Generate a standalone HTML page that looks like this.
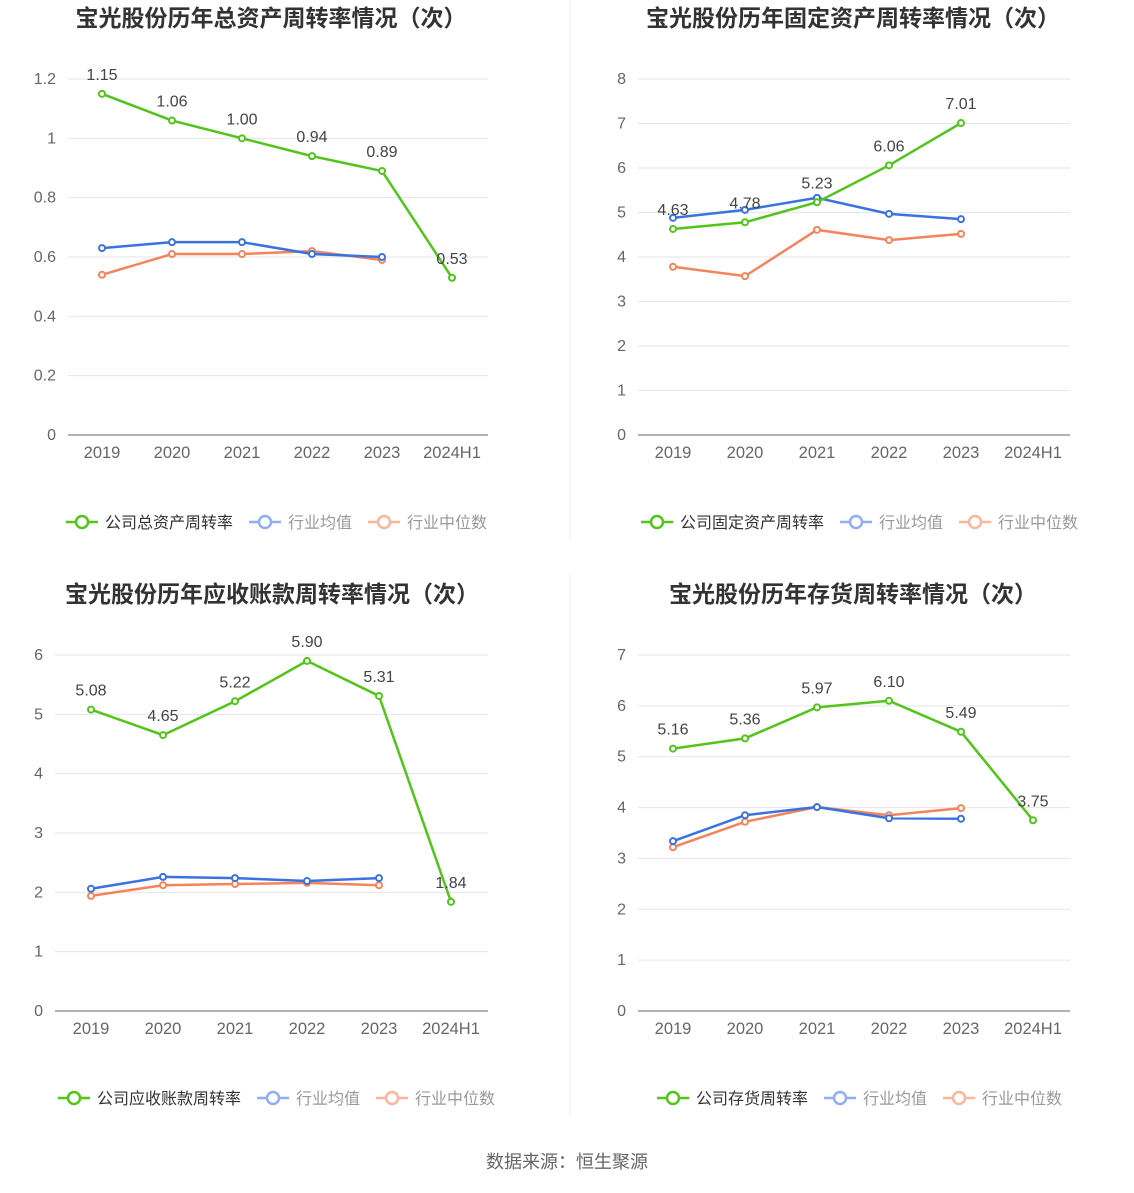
<!DOCTYPE html>
<html><head><meta charset="utf-8"><style>
body{margin:0;background:#fff;font-family:"Liberation Sans","Noto Sans CJK SC",sans-serif;}
svg text{font-family:"Liberation Sans","Noto Sans CJK SC",sans-serif;}
</style></head><body>
<svg id="s" width="1134" height="1188" xmlns="http://www.w3.org/2000/svg">
<line x1="570" y1="0" x2="570" y2="540" stroke="#eee"/>
<line x1="570" y1="575" x2="570" y2="1115" stroke="#eee"/>
<text x="567" y="1168" text-anchor="middle" font-size="18" fill="#666">数据来源：恒生聚源</text>
</svg>
<script>
const categories=["2019","2020","2021","2022","2023","2024H1"];
const c1Company=[1.15,1.06,1.00,0.94,0.89,0.53];
const c1Avg=[0.63,0.65,0.65,0.61,0.60];
const c1Med=[0.54,0.61,0.61,0.62,0.59];
const c1Ticks=["0","0.2","0.4","0.6","0.8","1","1.2"];
const c2Company=[4.63,4.78,5.23,6.06,7.01];
const c2Avg=[4.88,5.06,5.33,4.97,4.85];
const c2Med=[3.78,3.57,4.61,4.38,4.52];
const c2Ticks=["0","1","2","3","4","5","6","7","8"];
const c3Company=[5.08,4.65,5.22,5.90,5.31,1.84];
const c3Avg=[2.06,2.26,2.24,2.19,2.24];
const c3Med=[1.94,2.12,2.14,2.16,2.12];
const c3Ticks=["0","1","2","3","4","5","6"];
const c4Company=[5.16,5.36,5.97,6.10,5.49,3.75];
const c4Avg=[3.34,3.85,4.01,3.79,3.78];
const c4Med=[3.22,3.72,4.01,3.85,3.99];
const c4Ticks=["0","1","2","3","4","5","6","7"];
const svg=document.getElementById('s');
const NS="http://www.w3.org/2000/svg";
function mk(t,a,txt){const e=document.createElementNS(NS,t);for(const k in a)e.setAttribute(k,a[k]);if(txt!==undefined)e.textContent=txt;svg.appendChild(e);return e;}
const G="#52c41a",B="#3a72e0",O="#f5845a";
function chart(o){
  const n=o.ticks.length-1, max=+o.ticks[n];
  const y=v=>o.y0-(o.y0-o.yTop)*v/max;
  const x=i=>o.xs+i*o.step;
  let e=mk('text',{x:o.tx,y:o.ty,'text-anchor':'middle','font-size':23,'font-weight':'bold',fill:'#333'},o.title);
  
  o.ticks.forEach((t,i)=>{const yy=y(+t);
    e=mk('line',{x1:o.x0,x2:o.x1,y1:yy,y2:yy,stroke:i==0?'#666':'#e4e6ee'});
    
    e=mk('text',{x:o.x0-12,y:yy+5,'text-anchor':'end','font-size':16,fill:'#666'},t);
    });
  categories.forEach((c,i)=>{
    e=mk('text',{x:x(i),y:o.y0+23,'text-anchor':'middle','font-size':16.5,fill:'#666'},c);
    });
  [[o.med,O,'median-line'],[o.avg,B,'average-line'],[o.comp,G,'company-line']].forEach(([d,col,nm])=>{
    e=mk('polyline',{points:d.map((v,i)=>x(i)+','+y(v)).join(' '),fill:'none',stroke:col,'stroke-width':2.5});
    
    d.forEach((v,i)=>{e=mk('circle',{cx:x(i),cy:y(v),r:3,fill:'#fff',stroke:col,'stroke-width':2});
      });
  });
  o.comp.forEach((v,i)=>{e=mk('text',{x:x(i),y:y(v)-14,'text-anchor':'middle','font-size':16,fill:'#444'},v.toFixed(2));
    });
  let lx=o.lx;const ly=o.ly;
  [[o.lname,G,'#333'],['行业均值','#8fb0f0','#999'],['行业中位数','#fbb79e','#999']].forEach(([t,col,tc],k)=>{
    e=mk('line',{x1:lx,x2:lx+32,y1:ly,y2:ly,stroke:col,'stroke-width':2.5});
    
    e=mk('circle',{cx:lx+16,cy:ly,r:6,fill:'#fff',stroke:col,'stroke-width':2.5});
    
    e=mk('text',{x:lx+39,y:ly+6,'font-size':16,fill:tc},t);
    
    lx+=39+t.length*16+16;});
}
chart({title:'宝光股份历年总资产周转率情况（次）',tx:271,ty:26,ticks:c1Ticks,y0:435,yTop:79,x0:68,x1:488,xs:102,step:70,comp:c1Company,avg:c1Avg,med:c1Med,lname:'公司总资产周转率',lx:66,ly:522});
chart({title:'宝光股份历年固定资产周转率情况（次）',tx:853,ty:26,ticks:c2Ticks,y0:435,yTop:79,x0:638,x1:1070,xs:673,step:72,comp:c2Company,avg:c2Avg,med:c2Med,lname:'公司固定资产周转率',lx:641,ly:522});
chart({title:'宝光股份历年应收账款周转率情况（次）',tx:272,ty:602,ticks:c3Ticks,y0:1011,yTop:655,x0:55,x1:488,xs:91,step:72,comp:c3Company,avg:c3Avg,med:c3Med,lname:'公司应收账款周转率',lx:58,ly:1098});
chart({title:'宝光股份历年存货周转率情况（次）',tx:853,ty:602,ticks:c4Ticks,y0:1011,yTop:655,x0:638,x1:1070,xs:673,step:72,comp:c4Company,avg:c4Avg,med:c4Med,lname:'公司存货周转率',lx:657,ly:1098});
</script>
</body></html>
